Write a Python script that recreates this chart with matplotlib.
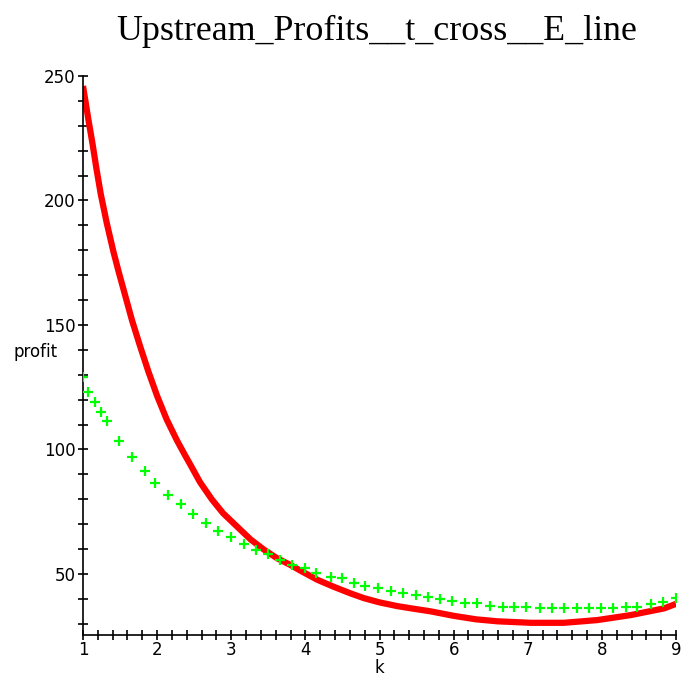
import matplotlib
matplotlib.use("Agg")
import matplotlib.pyplot as plt
from matplotlib.ticker import MultipleLocator

# red curve (solid line)
red_k = [1.0, 1.07, 1.13, 1.18, 1.24, 1.32, 1.41, 1.48, 1.54, 1.66, 1.77, 1.88,
         2.0, 2.13, 2.27, 2.38, 2.45, 2.58, 2.74, 2.89, 3.08, 3.26, 3.44, 3.62,
         3.80, 3.93, 4.16, 4.38, 4.61, 4.79, 5.0, 5.24, 5.47, 5.69, 6.0, 6.3,
         6.59, 7.04, 7.49, 7.94, 8.39, 8.84, 9.0]
red_profit = [246, 233, 222.5, 213, 202.5, 191, 179.5, 171.5, 165, 152, 141.5, 131.5,
              121.5, 112, 103.5, 97.5, 93.8, 86.8, 79.9, 74.4, 69, 63.9, 59.8, 56.3,
              53.6, 51.4, 47.7, 44.9, 42.2, 40.3, 38.6, 37.1, 36, 35, 33.2, 31.8,
              31, 30.4, 30.4, 31.5, 33.5, 36.2, 38]

# green crosses (point plot)
green_k = [1.0, 1.07, 1.16, 1.24, 1.33, 1.49, 1.66, 1.83, 1.97, 2.14, 2.32, 2.48,
           2.66, 2.82, 3.0, 3.17, 3.33, 3.50, 3.66, 3.82, 4.0, 4.15, 4.34, 4.50,
           4.65, 4.80, 4.98, 5.16, 5.32, 5.49, 5.66, 5.82, 5.98, 6.16, 6.32, 6.49,
           6.66, 6.81, 6.98, 7.17, 7.33, 7.49, 7.66, 7.82, 7.99, 8.15, 8.32, 8.47,
           8.66, 8.82, 9.0]
green_profit = [129, 123, 119, 115, 111.6, 103.5, 97, 91.5, 86.7, 81.7, 78, 74,
                70.6, 67.3, 64.9, 61.9, 59.5, 58, 55.6, 53.6, 52.3, 50.5, 48.9, 48.3,
                46.3, 45.3, 44.3, 43.3, 42.2, 41.6, 40.6, 40, 39.3, 38.5, 38.2, 37.3,
                36.6, 36.6, 36.6, 36.2, 36.2, 36.2, 36.2, 36.2, 36.2, 36.2, 36.9, 36.9,
                38, 38.9, 40.2]

title = "Upstream_Profits__t_cross__E_line"

fig = plt.figure(figsize=(6.81, 6.83), dpi=100)
ax = fig.add_axes([83 / 681, 1 - 635 / 683, (676 - 83) / 681, (635 - 76) / 683])

ax.plot(red_k, red_profit, color="#ff0000", lw=4.5, solid_capstyle="butt",
        solid_joinstyle="round", zorder=2)
ax.plot(green_k, green_profit, ls="none", marker="+", ms=7.5, mew=1.6,
        color="#00ff00", zorder=3)

ax.set_xlim(1, 9)
ax.set_ylim(25.5, 250)

for s in ["top", "right"]:
    ax.spines[s].set_visible(False)
for s in ["left", "bottom"]:
    ax.spines[s].set_linewidth(1.2)

ax.xaxis.set_major_locator(MultipleLocator(1))
ax.xaxis.set_minor_locator(MultipleLocator(0.2))
ax.yaxis.set_major_locator(MultipleLocator(50))
ax.yaxis.set_minor_locator(MultipleLocator(10))
ax.tick_params(which="both", direction="inout", length=7, width=1.2, labelsize=12)
ax.tick_params(axis="x", pad=1)
ax.tick_params(axis="y", pad=2)

fig.text(36 / 681, 1 - 352 / 683, "profit", ha="center", va="center", fontsize=12)
fig.text(379 / 681, 1 - 668 / 683, "k", ha="center", va="center", fontsize=12)
fig.text(377 / 681, 1 - 40 / 683, title, ha="center", va="baseline",
         fontsize=25.8, family="Liberation Serif")

fig.savefig("out.png", dpi=100)
